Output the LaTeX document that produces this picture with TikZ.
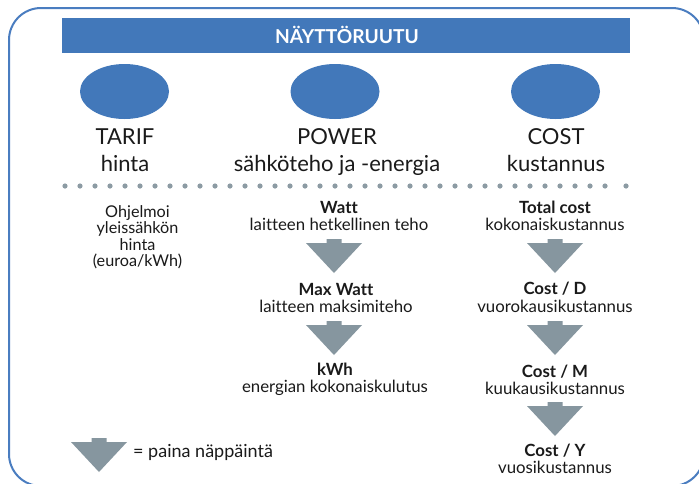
\documentclass[tikz,border=0pt]{standalone}
\usepackage{fontspec}
\setmainfont{Lato}[Ligatures=NoCommon]
\definecolor{frameblue}{HTML}{4A7DC0}
\definecolor{barblue}{HTML}{4278BA}
\definecolor{keygray}{HTML}{86969F}
\definecolor{dotgray}{HTML}{8C9BA3}
\definecolor{txt}{HTML}{1A1A1A}
\tikzset{
  big/.style={anchor=base, text=txt, font=\fontsize{22}{24}\selectfont, inner sep=0pt},
  bold/.style={anchor=base, text=txt, font=\fontsize{16.8}{18}\selectfont\bfseries, inner sep=0pt},
  reg/.style={anchor=base, text=txt, font=\fontsize{16.8}{18}\selectfont, inner sep=0pt},
  small/.style={anchor=base, text=txt, font=\fontsize{16.2}{18}\selectfont, inner sep=0pt},
  knob/.style={ellipse, fill=barblue, minimum width=89pt, minimum height=55pt, inner sep=0pt},
  presskey/.pic={\fill[keygray] (-7.5,0) -- (7.5,0) -- (7.5,4) -- (28,4) -- (0,34) -- (-28,4) -- (-7.5,4) -- cycle;}
}
\usetikzlibrary{shapes.geometric}
\begin{document}
\begin{tikzpicture}[x=1pt,y=-1pt]
\useasboundingbox (0,0) rectangle (699,483);
\clip (0,0) rectangle (699,483);
\fill[white] (0,0) rectangle (699,483);
% frame
\draw[frameblue, line width=2pt, rounded corners=32pt] (9,8) rectangle (704,486);
% header
\fill[barblue] (62,18) rectangle (630,53);
\node[anchor=base, text=white, font=\fontsize{19.2}{21}\selectfont\bfseries, inner sep=0pt] (hdr) at (347,43) {NÄYTTÖRUUTU};
% ellipses
\node[knob] (e1) at (124.5,91.5) {};
\node[knob] (e2) at (335,91.5) {};
\node[knob] (e3) at (555.5,91.5) {};
% big labels
\node[big] (t1) at (125,144) {TARIF};
\node[big] (t2) at (125,171) {hinta};
\node[big] (p1) at (337,144) {POWER};
\node[big] (p2) at (337,171) {sähköteho ja -energia};
\node[big] (c1) at (556,144) {COST};
\node[big] (c2) at (556,171) {kustannus};
% dots
\foreach \k in {0,...,36} {\fill[dotgray] (65+15*\k,186) circle (2.6);}
\fill[dotgray] (626,186) circle (2.6);
% tarif text
\node[small] (o1) at (137.5,217) {Ohjelmoi};
\node[small] (o2) at (137.5,233.5) {yleissähkön};
\node[small] (o3) at (137.5,250) {hinta};
\node[small] (o4) at (137.5,266.5) {(euroa/kWh)};
% power column
\node[bold] (w1) at (339,213) {Watt};
\node[reg] (w2) at (339,230) {laitteen hetkellinen teho};
\pic at (334,239) {presskey};
\node[bold] (m1) at (336,295) {Max Watt};
\node[reg] (m2) at (336,312) {laitteen maksimiteho};
\pic at (334,321) {presskey};
\node[bold] (k1) at (335,375) {kWh};
\node[reg] (k2) at (335,392) {energian kokonaiskulutus};
% cost column
\node[bold] (tc1) at (555,213) {Total cost};
\node[reg] (tc2) at (555,230) {kokonaiskustannus};
\pic at (555,239) {presskey};
\node[bold] (d1) at (555,294) {Cost / D};
\node[reg] (d2) at (555,312) {vuorokausikustannus};
\pic at (555,321) {presskey};
\node[bold] (mm1) at (555,377) {Cost / M};
\node[reg] (mm2) at (555,394) {kuukausikustannus};
\pic at (555,402) {presskey};
\node[bold] (y1) at (555,456) {Cost / Y};
\node[reg] (y2) at (555,473) {vuosikustannus};
% legend
\pic at (99,438) {presskey};
\node[anchor=base west, text=txt, font=\fontsize{18}{20}\selectfont, inner sep=0pt] (leg) at (133,457) {= paina näppäintä};
\end{tikzpicture}
\end{document}
